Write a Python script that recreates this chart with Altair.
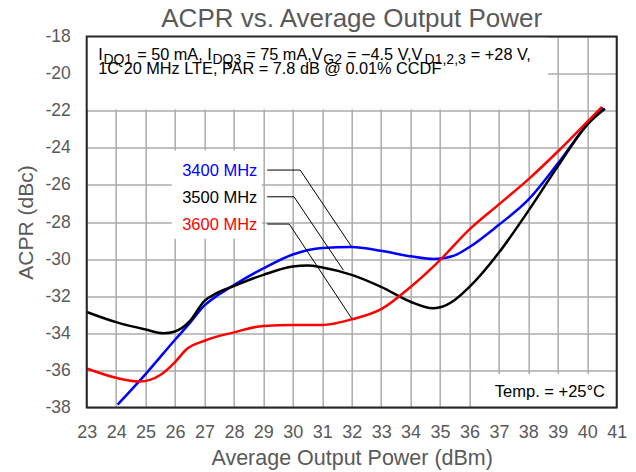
import altair as alt
import pandas as pd

FONT = "Liberation Sans"
GRAY = "#595959"

# ---- data ----
series_names = ["3400 MHz", "3500 MHz", "3600 MHz"]
series_colors = ["#0000ff", "#000000", "#ff0000"]

p3400 = [24.05, 25, 26, 26.5, 27, 27.5, 28, 29, 30, 31, 32, 33, 34, 34.8, 35.5, 36, 37, 38, 39, 40, 40.55]
a3400 = [-37.85, -36.2, -34.35, -33.45, -32.5, -31.9, -31.4, -30.5, -29.75, -29.4, -29.35, -29.55,
         -29.85, -30.0, -29.8, -29.35, -28.15, -26.8, -24.85, -22.75, -21.85]

p3500 = [23, 24, 25, 25.6, 26, 26.5, 27, 27.4, 28, 29, 30, 30.5, 31, 32, 33, 34, 34.75, 35, 35.5,
         36, 37, 38, 39, 40, 40.6]
a3500 = [-32.85, -33.4, -33.8, -34.0, -33.9, -33.35, -32.25, -31.85, -31.45, -30.85, -30.4, -30.35,
         -30.45, -30.85, -31.5, -32.3, -32.65, -32.6, -32.2, -31.5, -29.65, -27.4, -25.0, -22.75, -21.9]

p3600 = [23, 24, 24.8, 25.5, 26, 26.4, 27, 28, 29, 30, 31, 32, 33, 34, 35, 36, 37, 38, 39, 40, 40.5]
a3600 = [-35.9, -36.4, -36.6, -36.25, -35.55, -34.85, -34.4, -33.95, -33.6, -33.55, -33.55, -33.25,
         -32.7, -31.5, -30.05, -28.4, -27.05, -25.7, -24.2, -22.6, -21.8]

x_ticks = list(range(23, 42))
y_ticks = list(range(-38, -17, 2))

# leader lines from the series labels to the curves (data coordinates)
lead_group = ["a", "a", "a", "b", "b", "b", "c", "c", "c"]
lead_order = [0, 1, 2, 0, 1, 2, 0, 1, 2]
lead_x = [29.13, 30.25, 32.0, 29.13, 30.04, 31.72, 29.13, 29.88, 32.0]
lead_y = [-25.2, -25.2, -29.34, -26.64, -26.64, -30.6, -28.11, -28.11, -33.2]

# white boxes behind annotations (data coordinates)
box_x1 = [23, 25.89, 36.07]
box_x2 = [38.67, 28.95, 41]
box_y1 = [-18, -24.15, -36.2]
box_y2 = [-21.93, -28.9, -38]

W, H = 530, 371

rows = []
for name, xs, ys in zip(series_names, [p3400, p3500, p3600], [a3400, a3500, a3600]):
    for xv, yv in zip(xs, ys):
        rows.append({"series": name, "power": xv, "acpr": yv})
df = pd.DataFrame(rows)

xscale = alt.Scale(domain=[23, 41], nice=False, zero=False)
yscale = alt.Scale(domain=[-38, -18], nice=False, zero=False)

x_axis = alt.Axis(values=x_ticks, labelExpr="'' + datum.value", labelFont=FONT, labelFontSize=18,
                  labelColor=GRAY, labelPadding=16, labelOverlap=False, labelFlush=False,
                  ticks=False, domain=False, gridColor="#ababab", gridWidth=1.5,
                  title="Average Output Power (dBm)", titleFont=FONT, titleFontSize=21.5,
                  titleColor=GRAY, titleFontWeight="normal", titleBaseline="alphabetic", titleY=57)
y_axis = alt.Axis(values=y_ticks, labelExpr="'' + datum.value", labelFont=FONT, labelFontSize=17.5,
                  labelColor=GRAY, labelPadding=16.5, labelOverlap=False, labelFlush=False,
                  ticks=False, domain=False, gridColor="#ababab", gridWidth=1.5,
                  title="ACPR (dBc)", titleFont=FONT, titleFontSize=21, titleColor=GRAY,
                  titleFontWeight="normal", titleBaseline="alphabetic", titleAngle=-90,
                  titleX=-54.2, titleY=H / 2)

boxes = alt.Chart(pd.DataFrame({"x1": box_x1, "x2": box_x2, "y1": box_y1, "y2": box_y2})).mark_rect(
    fill="white", stroke=None).encode(
    x=alt.X("x1:Q", scale=xscale, axis=x_axis),
    x2="x2:Q",
    y=alt.Y("y1:Q", scale=yscale, axis=y_axis),
    y2="y2:Q",
)

lines = alt.Chart(df).mark_line(interpolate="monotone", strokeWidth=2.5).encode(
    x=alt.X("power:Q", scale=xscale, axis=x_axis),
    y=alt.Y("acpr:Q", scale=yscale, axis=y_axis),
    color=alt.Color("series:N", scale=alt.Scale(domain=series_names, range=series_colors), legend=None),
)

leaders = alt.Chart(pd.DataFrame({"g": lead_group, "o": lead_order, "x": lead_x, "y": lead_y})).mark_line(
    color="black", strokeWidth=1).encode(
    x=alt.X("x:Q", scale=xscale, axis=x_axis),
    y=alt.Y("y:Q", scale=yscale, axis=y_axis),
    detail="g:N",
    order="o:Q",
)

# ---- text annotations (pixel positions inside the plot area) ----
CW = {' ': 278, '=': 584, 'm': 833, 'A': 667, ',': 278, 'I': 278, 'V': 667, '.': 278,
      '+': 584, '\u2212': 584, 'D': 722, 'Q': 778, 'G': 778}
for d in "0123456789":
    CW[d] = 556


def text_width(s, size):
    return sum(CW.get(c, 556) for c in s) * size / 1000.0


MAIN, SUB = 16.3, 14.0
line1 = [("I", False), ("DQ1", True), (" = 50 mA, I", False), ("DQ3", True), (" = 75 mA,V", False),
         ("G2", True), (" = \u22124.5 V,V", False), ("D1,2,3", True), (" = +28 V,", False)]
seg_rows = []
cx = 11.6
base1 = 23.3
for txt, sub in line1:
    size = SUB if sub else MAIN
    stripped = txt.lstrip(" ")
    lead = text_width(txt[:len(txt) - len(stripped)], size)
    seg_rows.append({"t": stripped, "px": cx + lead + (0.6 if sub else 0), "py": base1 + (4.5 if sub else 0),
                     "fs": size, "c": "black", "al": "left"})
    cx += text_width(txt, size) + (1.0 if sub else 0)
seg_rows.append({"t": "1C 20 MHz LTE, PAR = 7.8 dB @ 0.01% CCDF", "px": 11.6, "py": 37.3, "fs": MAIN,
                 "c": "black", "al": "left"})
label_base = [139.5, 166.8, 193.5]
for name, col, yb in zip(series_names, series_colors, label_base):
    seg_rows.append({"t": name, "px": 170.6, "py": yb, "fs": 16.5, "c": col, "al": "right"})
seg_rows.append({"t": "Temp. = +25\u00b0C", "px": 518.3, "py": 360.2, "fs": 16.5, "c": "black",
                 "al": "right"})
seg_rows.append({"t": "ACPR vs. Average Output Power", "px": W / 2, "py": -9.5, "fs": 26,
                 "c": GRAY, "al": "center"})
tdf = pd.DataFrame(seg_rows)


def text_layer(align):
    return alt.Chart(tdf[tdf["al"] == align]).mark_text(
        font=FONT, align=align, baseline="alphabetic").encode(
        x=alt.X("px:Q", scale=None, axis=None), y=alt.Y("py:Q", scale=None, axis=None),
        text="t:N", size=alt.Size("fs:Q", scale=None, legend=None),
        color=alt.Color("c:N", scale=None, legend=None),
    )


frame = alt.Chart(pd.DataFrame({"a": [0]})).mark_rect(
    fillOpacity=0, stroke="#262626", strokeWidth=2).encode(
    x=alt.value(0), x2=alt.value(W), y=alt.value(0), y2=alt.value(H))

chart = alt.layer(boxes, lines, leaders, text_layer("left"), text_layer("right"),
                  text_layer("center"), frame).properties(
    width=W, height=H,
    autosize=alt.AutoSizeParams(type="none"),
    padding={"left": 78.7, "top": 28.5, "right": 10, "bottom": 64},
).configure_view(stroke=None).configure_axis(labelOverlap=False).configure(background="white")

chart.save("out.html", embed_options={"renderer": "svg", "actions": False})
